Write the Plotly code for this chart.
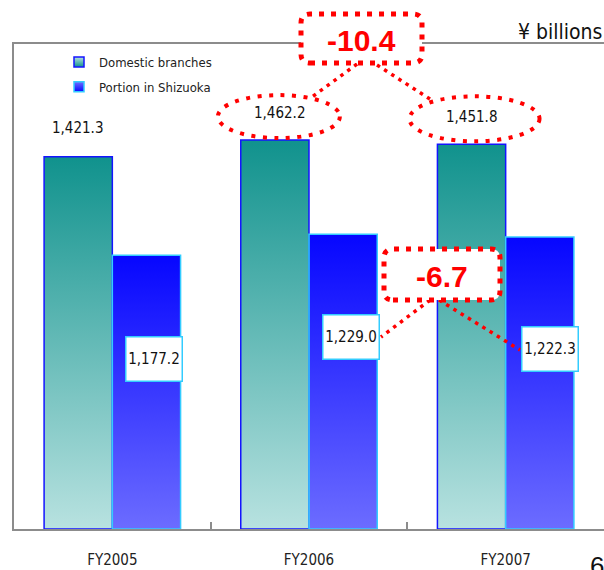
import plotly.graph_objects as go

# ---- data (¥ billions) ----
years = ["FY2005", "FY2006", "FY2007"]
domestic = [1421.3, 1462.2, 1451.8]
shizuoka = [1177.2, 1229.0, 1222.3]
series_names = ["Domestic branches", "Portion in Shizuoka"]
unit_label = "¥ billions"
page_number = "6"

# year-on-year change FY2006 -> FY2007
chg_domestic = f"{domestic[2] - domestic[1]:.1f}"
chg_shizuoka = f"{shizuoka[2] - shizuoka[1]:.1f}"

# ---- layout constants ----
W, H = 604, 570
M_L, M_R, M_T, M_B = 14, 0, 44, 41
PW, PH = W - M_L - M_R, H - M_T - M_B
Y_RANGE = [500, 1700]
X_RANGE = [-0.5, len(years) - 0.5]
BAR_W = 0.347

NARROW = "DejaVu Sans Condensed, Liberation Sans Narrow, Arial Narrow, sans-serif"
BOLD = "Liberation Sans, Arial, sans-serif"
RED = "#ff0000"
AXIS_GREY = "#8c8c8c"
INK = "#111111"

TEAL = dict(top="#10928d", bottom="#b8e2e0", edge="#1414ff")
BLUE = dict(top="#0606ff", bottom="#6c6cff", edge="#33ccff")


def px_x(px):
    """page pixel x -> paper fraction"""
    return (px - M_L) / PW


def px_y(py):
    """page pixel y -> paper fraction"""
    return (M_T + PH - py) / PH


fig = go.Figure()

# bars: each drawn as a filled outline with a vertical gradient
for name, vals, sty, side in [
    (series_names[0], domestic, TEAL, -1),
    (series_names[1], shizuoka, BLUE, 0),
]:
    fig.add_trace(go.Scatter(
        x=[None], y=[None], mode="markers", name=name, legendgroup=name,
        marker=dict(symbol="square", size=10, color=sty["bottom"],
                    gradient=dict(type="vertical", color=sty["top"]),
                    line=dict(color=sty["edge"], width=1.5)),
        hoverinfo="skip",
    ))
    for i, v in enumerate(vals):
        x0 = i - BAR_W if side < 0 else i
        x1 = x0 + BAR_W
        base = Y_RANGE[0]
        fig.add_trace(go.Scatter(
            x=[x0, x0, x1, x1, x0], y=[base, v, v, base, base],
            mode="lines", fill="toself",
            fillgradient=dict(type="vertical",
                              colorscale=[[0, sty["bottom"]], [1, sty["top"]]]),
            line=dict(color=sty["edge"], width=1.5),
            legendgroup=name, showlegend=False, hoveron="fills",
            hoverinfo="text", text=f"{years[i]}<br>{name}: {v:,.1f}",
        ))

annotations = []
shapes = []

# domestic labels above bars (dx, dy in px relative to bar top centre)
dom_dx = [0, 5, 0]
dom_dy = [29, 27, 27]
for i, v in enumerate(domestic):
    annotations.append(dict(
        x=i - BAR_W / 2, y=v, xref="x", yref="y", text=f"{v:,.1f}",
        xanchor="center", yanchor="middle",
        showarrow=False, xshift=dom_dx[i], yshift=dom_dy[i],
        font=dict(family=NARROW, size=15, color=INK),
    ))

# dotted ellipses around the FY2006 / FY2007 domestic values
ell = {1: (-57, 65, 2, 45), 2: (-62, 68, 3, 48)}
for i, (ex0, ex1, ey0, ey1) in ell.items():
    shapes.append(dict(
        type="circle", xref="x", yref="y",
        xsizemode="pixel", ysizemode="pixel",
        xanchor=i - BAR_W / 2, yanchor=domestic[i],
        x0=ex0, x1=ex1, y0=ey0, y1=ey1,
        line=dict(color=RED, width=4, dash="4px,7.5px"),
        fillcolor="rgba(0,0,0,0)",
    ))

# Shizuoka labels in boxes
shz_dx = [8, 8, 10]
shz_dy = [-104, -103, -112]
for i, v in enumerate(shizuoka):
    annotations.append(dict(
        x=i + BAR_W / 2, y=v, xref="x", yref="y", text=f"{v:,.1f}",
        xanchor="center", yanchor="middle",
        showarrow=False, xshift=shz_dx[i], yshift=shz_dy[i],
        width=53, height=41, borderpad=1,
        bgcolor="white", bordercolor="#33ccff", borderwidth=1.5,
        font=dict(family=NARROW, size=15, color=INK),
    ))


def rounded_box(hw, hh, r):
    return (f"M{-hw + r},{-hh} L{hw - r},{-hh} Q{hw},{-hh} {hw},{-hh + r} "
            f"L{hw},{hh - r} Q{hw},{hh} {hw - r},{hh} L{-hw + r},{hh} "
            f"Q{-hw},{hh} {-hw},{hh - r} L{-hw},{-hh + r} Q{-hw},{-hh} {-hw + r},{-hh} Z")


# change call-outs: (centre px, half sizes, text, connectors)
callouts = [
    ((361.5, 38.5), (60.5, 24.5), chg_domestic,
     [((357, 64), (312, 97)), ((377, 65), (433, 101))]),
    ((442, 274.5), (58, 25.5), chg_shizuoka,
     [((430, 300), (381, 337)), ((439, 300), (520, 350))]),
]
for (cx, cy), (hw, hh), txt, links in callouts:
    for (ax, ay), (bx, by) in links:
        shapes.append(dict(
            type="line", xref="paper", yref="paper",
            x0=px_x(ax), y0=px_y(ay), x1=px_x(bx), y1=px_y(by),
            line=dict(color=RED, width=3.5, dash="3.5px,5px"),
        ))
    shapes.append(dict(
        type="path", xref="paper", yref="paper",
        xsizemode="pixel", ysizemode="pixel",
        xanchor=px_x(cx), yanchor=px_y(cy),
        path=rounded_box(hw, hh, 9),
        fillcolor="white", line=dict(color=RED, width=5, dash="5px,7px"),
    ))
    annotations.append(dict(
        x=px_x(cx), y=px_y(cy + 1.5), xref="paper", yref="paper", text=f"<b>{txt}</b>",
        xanchor="center", yanchor="middle",
        showarrow=False, font=dict(family=BOLD, size=30, color=RED),
    ))

# unit and page number
annotations.append(dict(
    x=1, y=px_y(32), xref="paper", yref="paper", xanchor="right", yanchor="middle",
    text=unit_label, showarrow=False,
    font=dict(family=NARROW, size=21, color=INK),
))
annotations.append(dict(
    x=px_x(588), y=px_y(566), xref="paper", yref="paper", xanchor="left", yanchor="middle",
    text=page_number, showarrow=False,
    font=dict(family=BOLD, size=26, color=INK),
))

fig.update_layout(
    width=W, height=H,
    margin=dict(l=M_L, r=M_R, t=M_T, b=M_B),
    paper_bgcolor="white", plot_bgcolor="white",
    showlegend=True,
    legend=dict(
        x=px_x(59), y=px_y(47), xanchor="left", yanchor="top",
        bgcolor="rgba(0,0,0,0)", tracegroupgap=5,
        font=dict(family=NARROW, size=13, color="#222222"),
    ),
    annotations=annotations,
    shapes=shapes,
    hovermode="closest",
)
fig.update_xaxes(
    range=X_RANGE, tickvals=list(range(len(years))), ticktext=years,
    ticks="", showgrid=False, zeroline=False,
    showline=True, linecolor=AXIS_GREY, linewidth=2, mirror=True,
    tickfont=dict(family=NARROW, size=15, color="#222222"),
    ticklabelstandoff=16,
    minor=dict(tickvals=[0.5, 1.5], ticks="inside", ticklen=7,
               tickcolor=AXIS_GREY, tickwidth=1.5),
    fixedrange=True,
)
fig.update_yaxes(
    range=Y_RANGE, showticklabels=False, ticks="", showgrid=False, zeroline=False,
    showline=True, linecolor=AXIS_GREY, linewidth=1.5, fixedrange=True,
)

fig.write_html("out.html")
